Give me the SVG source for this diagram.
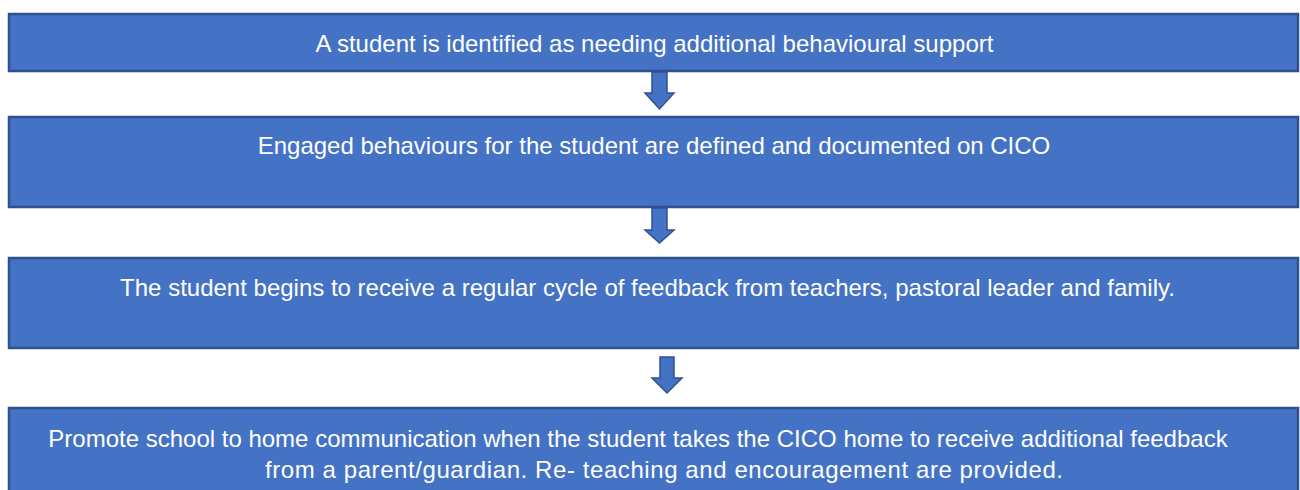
<svg xmlns="http://www.w3.org/2000/svg" width="1300" height="490" viewBox="0 0 1300 490">
<style>
.box{fill:#4472C4;stroke:#2F528F;stroke-width:2.5}
.t{font-family:"Liberation Sans",Arial,sans-serif;font-size:24px;fill:#FFFFFF}
.arr{fill:#4472C4;stroke:#2F528F;stroke-width:1.5}
</style>
<rect width="1300" height="490" fill="#FFFFFF"/>
<g id="node1"><rect class="box" x="9" y="14" width="1289" height="57"/>
<text class="t" x="654.5" y="52" text-anchor="middle">A student is identified as needing additional behavioural support</text></g>
<g id="node2"><rect class="box" x="9" y="117" width="1289" height="90"/>
<text class="t" x="654" y="154" text-anchor="middle">Engaged behaviours for the student are defined and documented on CICO</text></g>
<g id="node3"><rect class="box" x="9" y="258" width="1289" height="90"/>
<text class="t" x="647.5" y="296" text-anchor="middle">The student begins to receive a regular cycle of feedback from teachers, pastoral leader and family.</text></g>
<g id="node4"><rect class="box" x="9" y="408" width="1289" height="90"/>
<text class="t" x="638" y="447" text-anchor="middle">Promote school to home communication when the student takes the CICO home to receive additional feedback</text>
<text class="t" x="265" y="478" textLength="798" lengthAdjust="spacing">from a parent/guardian. Re- teaching and encouragement are provided.</text></g>
<g id="connectors">
<polygon class="arr" points="652,72 667,72 667,93 674,93 659.5,109 645,93 652,93"/>
<polygon class="arr" points="652,208 667,208 667,230 674,230 659.5,243 645,230 652,230"/>
<polygon class="arr" points="660,357 674,357 674,378 682,378 667,393 652,378 660,378"/>
</g>
</svg>
